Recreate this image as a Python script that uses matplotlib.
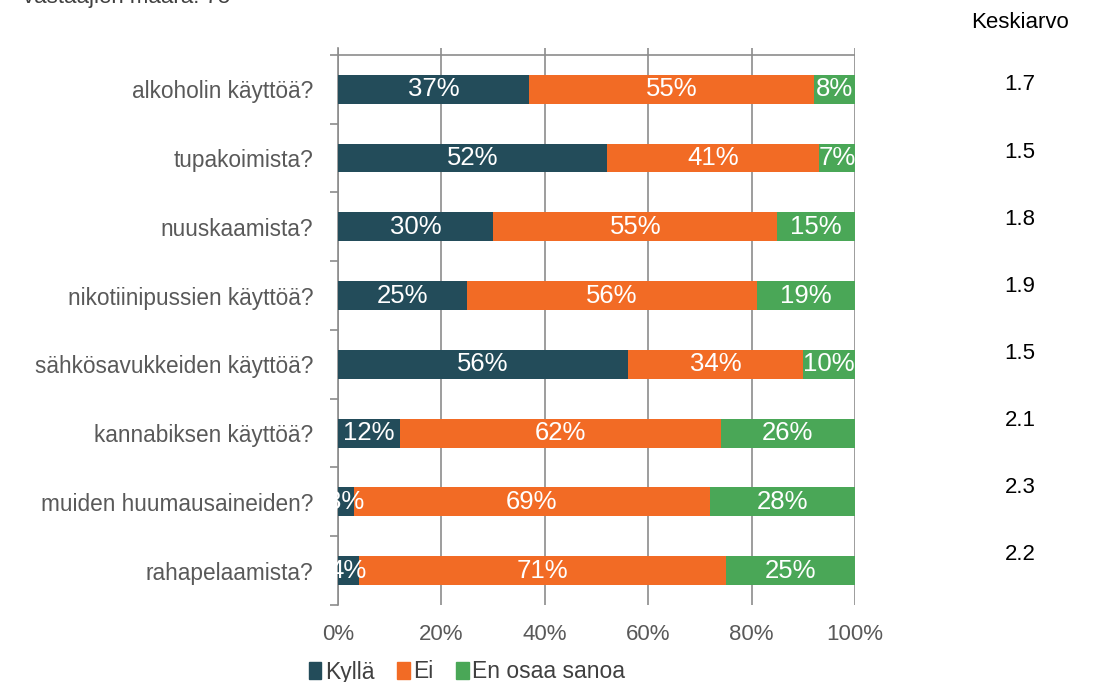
import numpy as np
import matplotlib.pyplot as plt
from matplotlib.patches import Patch

plt.rcParams['font.family'] = ['Liberation Sans', 'DejaVu Sans']

categories = ['alkoholin käyttöä?', 'tupakoimista?', 'nuuskaamista?',
              'nikotiinipussien käyttöä?', 'sähkösavukkeiden käyttöä?',
              'kannabiksen käyttöä?', 'muiden huumausaineiden?', 'rahapelaamista?']
kylla = [37, 52, 30, 25, 56, 12, 3, 4]
ei = [55, 41, 55, 56, 34, 62, 69, 71]
eos = [8, 7, 15, 19, 10, 26, 28, 25]
keskiarvo = [1.7, 1.5, 1.8, 1.9, 1.5, 2.1, 2.3, 2.2]
series_names = ['Kyllä', 'Ei', 'En osaa sanoa']
colors = ['#234C5A', '#F26B25', '#4AA757']
xticks = [0, 20, 40, 60, 80, 100]

W, H = 1099, 682
fig = plt.figure(figsize=(W / 100, H / 100), dpi=100)
ax = fig.add_axes([338 / W, 1 - 605 / H, (855 - 338) / W, (605 - 48) / H])

grey = '#8C8C8C'
txt = '#595959'
y = np.arange(len(categories))
left = np.zeros(len(categories))
for vals, name, col in zip([kylla, ei, eos], series_names, colors):
    vals = np.array(vals, dtype=float)
    ax.barh(y, vals, left=left, height=0.42, color=col, label=name, zorder=3)
    for yi, l, v in zip(y, left, vals):
        ax.text(l + v / 2, yi, f'{int(v)}%', ha='center', va='center',
                color='white', fontsize=18.5, zorder=4)
    left += vals

ax.set_xlim(0, 100)
ax.set_ylim(len(categories) - 0.5, -0.6)
ax.set_xticks(xticks)
ax.set_xticklabels([f'{t}%' for t in xticks], color=txt, fontsize=16)
ax.tick_params(axis='x', length=0, pad=14)
ax.set_yticks(y)
ax.set_yticklabels(categories, color=txt, fontsize=16.3)
ax.tick_params(axis='y', which='major', length=0, pad=18)
ax.set_yticks(np.arange(-0.5, len(categories)), minor=True)
ax.tick_params(axis='y', which='minor', length=6, color=grey, width=1.2)
ax.grid(axis='x', color=grey, linewidth=1.2, zorder=0)
for s in ['top', 'right', 'bottom']:
    ax.spines[s].set_visible(False)
ax.spines['left'].set_color(grey)
ax.spines['left'].set_linewidth(1.2)
ax.axhline(-0.5, color=grey, linewidth=1.2, zorder=1)

# average column
fig.text(1020 / W, 1 - 22 / H, 'Keskiarvo', ha='center', va='center',
         fontsize=16, color='black')
for i, k in enumerate(keskiarvo):
    fig.text(1020 / W, 1 - (85 + i * 67.1) / H, f'{k}', ha='center',
             va='center', fontsize=16, color='black')

fig.text(23 / W, 1 - 3 / H, 'vastaajien määrä: 75', ha='left',
         va='baseline', fontsize=16, color='#404040')

handles = [Patch(color=c) for c in colors]
fig.legend(handles, series_names, loc='center left',
           bbox_to_anchor=(288 / W, 1 - 672 / H), ncol=3, frameon=False,
           fontsize=16.5, handlelength=0.55, handleheight=0.7,
           handletextpad=0.15, columnspacing=1.0, labelcolor='#404040')

fig.savefig('out.png', dpi=100)
